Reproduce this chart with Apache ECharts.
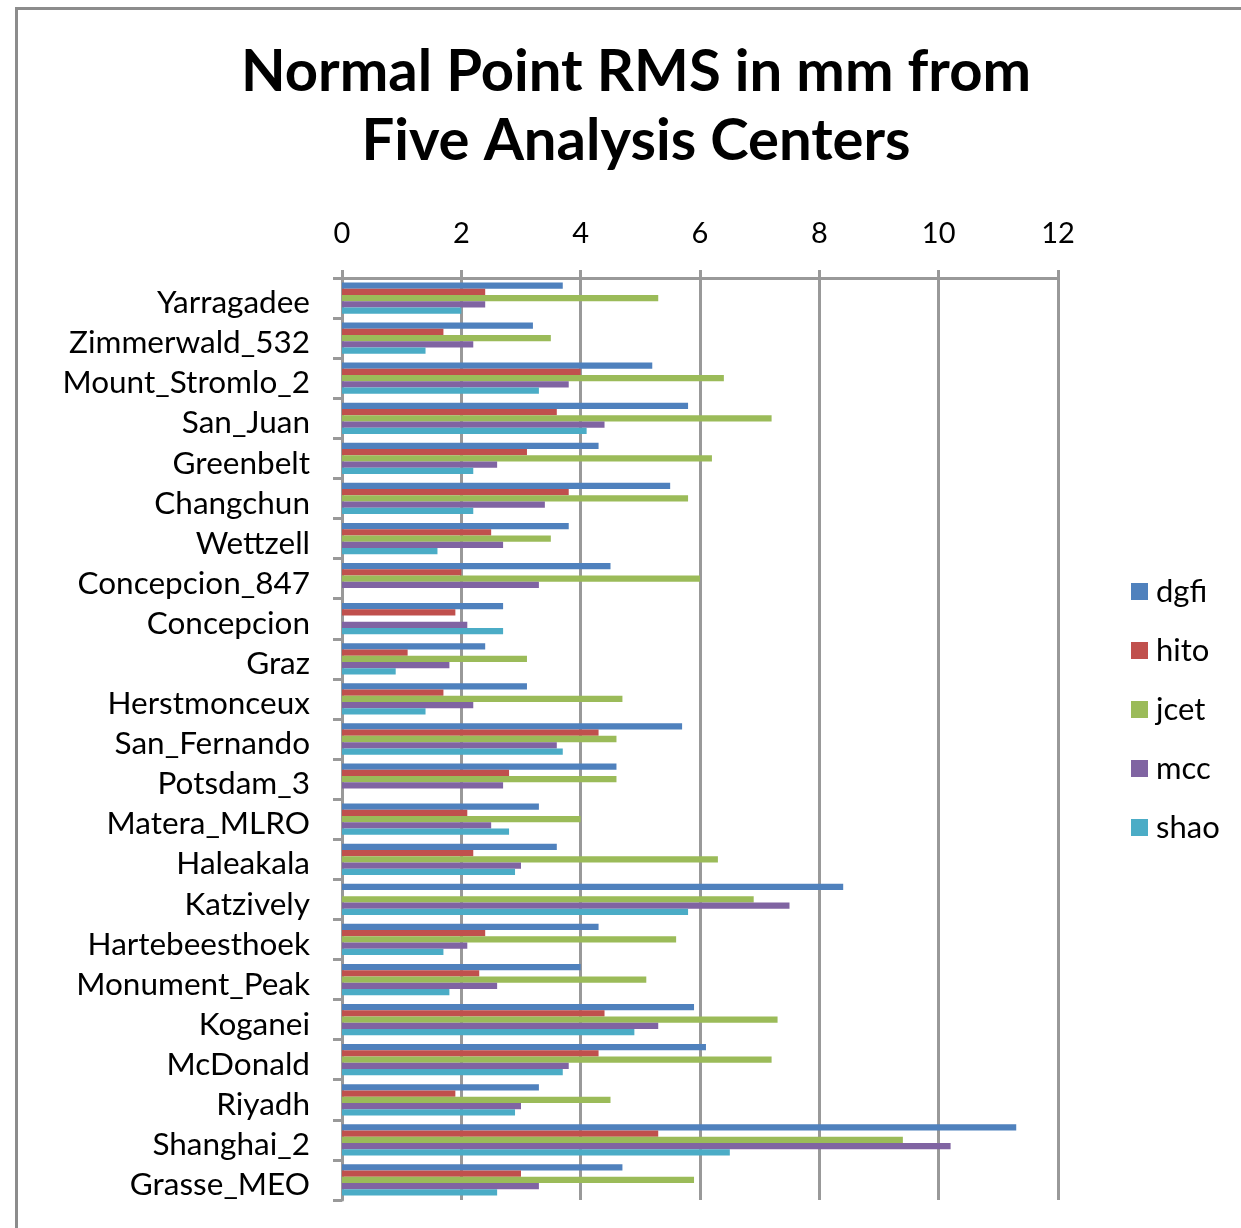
<!DOCTYPE html>
<html>
<head>
<meta charset="utf-8">
<script src="https://cdn.jsdelivr.net/npm/echarts@6/dist/echarts.min.js"></script>
<style>html,body{margin:0;padding:0;background:#fff;}#c{width:1241px;height:1228px;}</style>
</head>
<body>
<div id="c"></div>
<script>
const stations = ["Yarragadee","Zimmerwald_532","Mount_Stromlo_2","San_Juan","Greenbelt","Changchun","Wettzell","Concepcion_847","Concepcion","Graz","Herstmonceux","San_Fernando","Potsdam_3","Matera_MLRO","Haleakala","Katzively","Hartebeesthoek","Monument_Peak","Koganei","McDonald","Riyadh","Shanghai_2","Grasse_MEO"];
const dgfi = [3.7,3.2,5.2,5.8,4.3,5.5,3.8,4.5,2.7,2.4,3.1,5.7,4.6,3.3,3.6,8.4,4.3,4.0,5.9,6.1,3.3,11.3,4.7];
const hito = [2.4,1.7,4.0,3.6,3.1,3.8,2.5,2.0,1.9,1.1,1.7,4.3,2.8,2.1,2.2,null,2.4,2.3,4.4,4.3,1.9,5.3,3.0];
const jcet = [5.3,3.5,6.4,7.2,6.2,5.8,3.5,6.0,null,3.1,4.7,4.6,4.6,4.0,6.3,6.9,5.6,5.1,7.3,7.2,4.5,9.4,5.9];
const mcc  = [2.4,2.2,3.8,4.4,2.6,3.4,2.7,3.3,2.1,1.8,2.2,3.6,2.7,2.5,3.0,7.5,2.1,2.6,5.3,3.8,3.0,10.2,3.3];
const shao = [2.0,1.4,3.3,4.1,2.2,2.2,1.6,null,2.7,0.9,1.4,3.7,null,2.8,2.9,5.8,1.7,1.8,4.9,3.7,2.9,6.5,2.6];
const seriesNames = ["dgfi","hito","jcet","mcc","shao"];
const seriesData = [dgfi,hito,jcet,mcc,shao];
const colors = ["#4F81BD","#C0504D","#9BBB59","#8064A2","#4BACC6"];
const titleText = "Normal Point RMS in mm from\nFive Analysis Centers";

const chart = echarts.init(document.getElementById('c'), null, {renderer:'canvas'});
const font = 'Lato, "Open Sans", sans-serif';
chart.setOption({
  animation: false,
  backgroundColor: '#fff',
  color: colors,
  graphic: [{
    type: 'rect', left: 14, top: 6,
    shape: {width: 1260, height: 1260},
    style: {fill: 'none', stroke: '#8c8c8c', lineWidth: 3},
    silent: true, z: 0
  }],
  title: {
    text: titleText,
    left: 631, top: 33, textAlign: 'center',
    textStyle: {fontFamily: font, fontWeight: 'bold', fontSize: 58, lineHeight: 69, color: '#000'}
  },
  legend: {
    orient: 'vertical', left: 1126, top: 571,
    itemWidth: 17, itemHeight: 17, itemGap: 28,
    icon: 'rect',
    textStyle: {fontFamily: font, fontSize: 31, lineHeight: 30, color: '#000', padding: [0,0,0,3]},
    data: seriesNames
  },
  grid: {left: 342, right: 183, top: 278, bottom: 28, containLabel: false},
  xAxis: {
    type: 'value', position: 'top', min: 0, max: 12, interval: 2,
    axisLine: {show: true, lineStyle: {color: '#999', width: 3}},
    axisTick: {show: true, length: 8, lineStyle: {color: '#999', width: 3}},
    axisLabel: {fontFamily: font, fontSize: 29, color: '#000', margin: 30},
    splitLine: {show: true, lineStyle: {color: '#999', width: 3}}
  },
  yAxis: {
    type: 'category', inverse: true, data: stations,
    axisLine: {show: true, lineStyle: {color: '#999', width: 3}},
    axisTick: {show: true, length: 9, lineStyle: {color: '#999', width: 3}},
    axisLabel: {interval: 0, hideOverlap: false, fontFamily: font, fontSize: 31.5, color: '#000', margin: 32, verticalAlign: 'top', lineHeight: 10}
  },
  series: seriesNames.map((n,i) => ({
    name: n, type: 'bar', data: seriesData[i],
    barGap: '0%', barCategoryGap: '22%',
    itemStyle: {color: colors[i]}
  }))
});
</script>
</body>
</html>
